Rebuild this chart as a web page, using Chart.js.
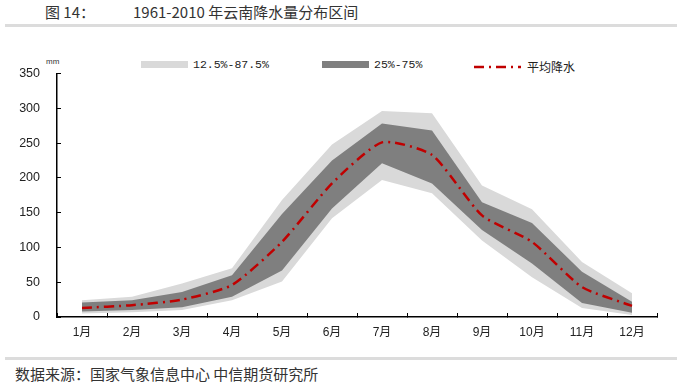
<!DOCTYPE html>
<html>
<head>
<meta charset="utf-8">
<script src="https://cdn.jsdelivr.net/npm/chart.js@4"></script>
<style>
  body { margin: 0; width: 700px; height: 386px; background: #fff; position: relative; overflow: hidden;
         font-family: "Liberation Sans", "Noto Sans CJK SC", sans-serif; color: #222; }
  .title { position: absolute; top: 1px; font-size: 15px; color: #333; font-family: "Noto Sans CJK SC", sans-serif; }
  .rule { position: absolute; left: 5px; width: 672px; height: 3px; background: #dcdcdc; }
  .footer { position: absolute; left: 15px; top: 363px; font-size: 15px; color: #333; font-family: "Noto Sans CJK SC", sans-serif; }
  .unit { position: absolute; left: 46px; top: 57px; font-size: 8px; color: #333; }
  .legend { position: absolute; top: 58px; font-size: 11.5px; color: #222; display: flex; align-items: center; font-family: "Liberation Mono", "Noto Sans CJK SC", monospace; }
  .swatch { width: 47px; height: 7px; margin-right: 5px; }
  #chartBox { position: absolute; left: 0; top: 45px; width: 700px; height: 305px; }
</style>
</head>
<body>
<div class="title" style="left:45px">图 14：</div>
<div class="title" style="left:133px">1961-2010 年云南降水量分布区间</div>
<div class="rule" style="top:24px"></div>

<div class="unit">mm</div>
<div class="legend" style="left:141px"><div class="swatch" style="background:#d9d9d9"></div>12.5%-87.5%</div>
<div class="legend" style="left:322px"><div class="swatch" style="background:#7f7f7f"></div>25%-75%</div>
<div class="legend" style="left:474px">
  <svg width="47" height="8" style="margin-right:6px"><line x1="0" y1="4" x2="47" y2="4" stroke="#c00000" stroke-width="2.5" stroke-dasharray="10,5,2,5"/></svg>
  <span style="font-family:'Noto Sans CJK SC',sans-serif;font-size:12px">平均降水</span>
</div>

<div id="chartBox"><canvas id="rainChart"></canvas></div>

<div class="rule" style="top:357px"></div>
<div class="footer">数据来源：国家气象信息中心 中信期货研究所</div>

<script>
// ===================== Data =====================
const months = ['1月', '2月', '3月', '4月', '5月', '6月', '7月', '8月', '9月', '10月', '11月', '12月'];
const p875 = [24, 29, 48, 70, 168, 248, 296, 293, 189, 155, 79, 34];
const p125 = [5, 7, 10, 24, 51, 142, 197, 178, 110, 57, 13, 3];
const p75 = [21, 24, 36, 60, 148, 225, 278, 268, 165, 135, 65, 22];
const p25 = [8, 10, 14, 29, 67, 156, 221, 192, 125, 77, 20, 6];
const meanRain = [13, 17, 25, 46, 108, 192, 251, 233, 146, 108, 43, 16];
const yTicks = [0, 50, 100, 150, 200, 250, 300, 350];

// ===================== Chart Setup =====================
function band(data, color, fill, order) {
    return {
        data: data,
        borderWidth: 0,
        pointRadius: 0,
        backgroundColor: color,
        fill: fill,
        order: order,
        tension: 0
    };
}

function setupChart() {
    const ctx = document.getElementById('rainChart').getContext('2d');
    new Chart(ctx, {
        type: 'line',
        data: {
            labels: months,
            datasets: [
                band(p875, '#d9d9d9', '+1', 3),
                band(p125, '#d9d9d9', false, 3),
                band(p75, '#7f7f7f', '+1', 2),
                band(p25, '#7f7f7f', false, 2),
                {
                    data: meanRain,
                    borderColor: '#c00000',
                    borderWidth: 2.5,
                    borderDash: [10, 5, 2, 5],
                    pointRadius: 0,
                    fill: false,
                    order: 0,
                    tension: 0.2
                }
            ]
        },
        options: {
            responsive: true,
            maintainAspectRatio: false,
            animation: false,
            layout: { padding: { top: 13, right: 43, left: 0, bottom: 0 } },
            plugins: { legend: { display: false }, tooltip: { enabled: false } },
            scales: {
                x: {
                    offset: true,
                    grid: { offset: true, drawOnChartArea: false, tickLength: -4, color: '#000', lineWidth: 1 },
                    border: { color: '#000', width: 1.5 },
                    ticks: { color: '#222', padding: 12, font: { size: 12, family: '"Liberation Sans", "Noto Sans CJK SC"' } },
                    afterFit: (scale) => { scale.height = 33; }
                },
                y: {
                    min: 0,
                    max: 350,
                    afterBuildTicks: (scale) => { scale.ticks = yTicks.map(v => ({ value: v })); },
                    grid: { drawOnChartArea: false, tickLength: -4, color: '#000', lineWidth: 1 },
                    border: { color: '#000', width: 1.5 },
                    ticks: { color: '#222', padding: 21, font: { size: 12.5, family: '"Liberation Sans"' } },
                    afterFit: (scale) => { scale.width = 57; }
                }
            }
        }
    });
}

document.addEventListener('DOMContentLoaded', setupChart);
</script>
</body>
</html>
